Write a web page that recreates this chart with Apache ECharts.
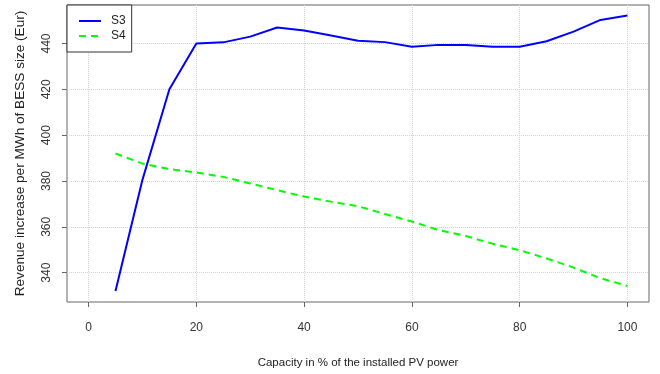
<!DOCTYPE html>
<html>
<head>
<meta charset="utf-8">
<script src="https://cdn.jsdelivr.net/npm/echarts@6/dist/echarts.min.js"></script>
<style>
  html, body { margin: 0; padding: 0; background: #fff; }
  #chart { width: 660px; height: 374px; }
</style>
</head>
<body>
<div id="chart"></div>
<script>
// capacity (% of installed PV power)
const capacity = [5, 10, 15, 20, 25, 30, 35, 40, 45, 50, 55, 60, 65, 70, 75, 80, 85, 90, 95, 100];
// revenue increase per MWh of BESS size (Eur)
const s3 = [332, 380.5, 420, 440, 440.5, 443, 447, 445.7, 443.5, 441.2, 440.6, 438.6, 439.4, 439.3, 438.6, 438.6, 441, 445.2, 450.3, 452.2];
const s4 = [392, 387.6, 385.2, 383.7, 381.8, 378.9, 376, 373.2, 371, 369, 365.6, 362.3, 358.6, 356, 352.6, 349.8, 346.2, 342.2, 337.6, 334.2];
const xTicks = [0, 20, 40, 60, 80, 100];
const yTicks = [340, 360, 380, 400, 420, 440];

const pairs = (xs, ys) => xs.map((x, i) => [x, ys[i]]);

const chart = echarts.init(document.getElementById("chart"));
const font = "Liberation Sans, Arial, sans-serif";
const grid = { type: "dotted", color: "#d3d3d3", width: 1 };

chart.setOption({
  animation: false,
  grid: {
    left: 67, right: 11, top: 5, bottom: 71,
    show: true, borderColor: "#666", borderWidth: 1
  },
  legend: {
    orient: "vertical",
    left: 67, top: 5,
    backgroundColor: "#fff",
    borderColor: "#333", borderWidth: 1,
    padding: [10, 6, 10, 11],
    itemWidth: 22, itemHeight: 14, itemGap: 3,
    itemStyle: { opacity: 0 },
    textStyle: { fontFamily: font, fontSize: 12, color: "#222", padding: [0, 0, 0, 5] },
    data: ["S3", "S4"]
  },
  xAxis: {
    type: "value",
    min: -4, max: 104,
    name: "Capacity in % of the installed PV power",
    nameLocation: "middle",
    nameGap: 55,
    nameTextStyle: { fontFamily: font, fontSize: 11.5, color: "#222" },
    axisLine: { show: false, onZero: false },
    axisTick: { show: true, length: 5, lineStyle: { color: "#666" }, customValues: xTicks },
    axisLabel: { fontFamily: font, fontSize: 12, color: "#333", margin: 20, customValues: xTicks },
    splitLine: { show: true, lineStyle: grid }
  },
  yAxis: {
    type: "value",
    min: 327.2, max: 456.8,
    name: "Revenue increase per MWh of BESS size (Eur)",
    nameLocation: "middle",
    nameGap: 40,
    nameTextStyle: { fontFamily: font, fontSize: 13.6, color: "#222" },
    axisLine: { show: false, onZero: false },
    axisTick: { show: true, length: 5, lineStyle: { color: "#666" }, customValues: yTicks },
    axisLabel: { fontFamily: font, fontSize: 12, color: "#333", rotate: 90, margin: 14, customValues: yTicks },
    splitLine: { show: true, lineStyle: grid }
  },
  series: [
    {
      name: "S3", type: "line", data: pairs(capacity, s3),
      symbol: "none",
      lineStyle: { color: "#0000ff", width: 2 },
      itemStyle: { color: "#0000ff" }
    },
    {
      name: "S4", type: "line", data: pairs(capacity, s4),
      symbol: "none",
      lineStyle: { color: "#00ff00", width: 2, type: [7, 5] },
      itemStyle: { color: "#00ff00" }
    }
  ]
});
</script>
</body>
</html>
